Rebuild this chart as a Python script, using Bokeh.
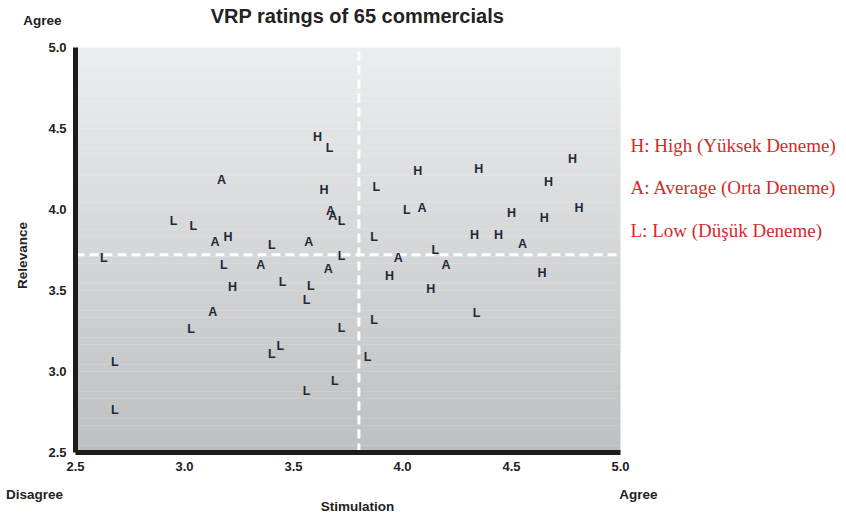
import numpy as np
from bokeh.plotting import figure
from bokeh.models import LabelSet, Range1d, FixedTicker, PrintfTickFormatter, ColumnDataSource
from bokeh.core.properties import value
from bokeh.embed import file_html
from bokeh.resources import INLINE

# Data (Stimulation, Relevance, rating class)
stimulation = [3.61, 3.665, 3.17, 3.64, 3.67, 3.68, 3.72, 2.95, 3.04, 3.14,
               3.20, 3.40, 3.57, 2.63, 3.18, 3.35, 3.72, 3.66, 3.22, 3.45,
               3.58, 3.56, 3.13, 3.03, 3.72, 3.44, 3.40, 2.68, 3.69, 3.56,
               2.68, 3.87, 3.98, 4.15, 4.20, 4.55, 3.94, 4.13, 4.64, 3.87,
               4.34, 3.84, 4.78, 4.35, 4.07, 3.88, 4.67, 4.02, 4.09, 4.50,
               4.65, 4.81, 4.33, 4.44]
relevance = [4.45, 4.38, 4.18, 4.12, 3.99, 3.96, 3.93, 3.93, 3.90, 3.80,
             3.83, 3.78, 3.80, 3.70, 3.66, 3.66, 3.71, 3.63, 3.52, 3.55,
             3.53, 3.44, 3.37, 3.26, 3.27, 3.16, 3.11, 3.06, 2.94, 2.88,
             2.76, 3.83, 3.70, 3.75, 3.66, 3.79, 3.59, 3.51, 3.61, 3.32,
             3.36, 3.09, 4.31, 4.25, 4.24, 4.14, 4.17, 4.00, 4.01, 3.98,
             3.95, 4.01, 3.84, 3.84]
rating = ["H", "L", "A", "H", "A", "A", "L", "L", "L", "A",
          "H", "L", "A", "L", "L", "A", "L", "A", "H", "L",
          "L", "L", "A", "L", "L", "L", "L", "L", "L", "L",
          "L", "L", "A", "L", "A", "A", "H", "H", "H", "L",
          "L", "L", "H", "H", "H", "L", "H", "L", "A", "H",
          "H", "H", "H", "H"]

x_ticks = [2.5, 3.0, 3.5, 4.0, 4.5, 5.0]
y_ticks = [2.5, 3.0, 3.5, 4.0, 4.5, 5.0]
mid_stimulation = 3.80
mid_relevance = 3.72

title_text = "VRP ratings of 65 commercials"
axis_texts = ["Agree", "Disagree", "Agree", "Stimulation"]
y_title = "Relevance"
legend_lines = ["H: High (Yüksek Deneme)",
                "A: Average (Orta Deneme)",
                "L: Low (Düşük Deneme)"]

W, H = 846, 516
# plot box in page pixels: x 2.5..5.0 -> 75..620, y 5.0..2.5 -> 47..452
BOX_L, BOX_R, BOX_T, BOX_B = 75, 620, 47, 452
x0, x1 = x_ticks[0], x_ticks[-1]
y0, y1 = y_ticks[0], y_ticks[-1]
kx = (BOX_R - BOX_L) / (x1 - x0)
ky = (BOX_B - BOX_T) / (y1 - y0)
x_range = Range1d(x0 - BOX_L / kx, x1 + (W - BOX_R) / kx)
y_range = Range1d(y0 - (H - BOX_B) / ky, y1 + BOX_T / ky)

SANS = "Liberation Sans"

p = figure(width=W, height=H, x_range=x_range, y_range=y_range,
           output_backend="svg", toolbar_location=None,
           min_border_left=0, min_border_right=0, min_border_top=0, min_border_bottom=0)
try:
    p.title = None
except Exception:
    p.title.visible = False
p.outline_line_color = None
p.grid.visible = False
p.background_fill_color = "white"
p.border_fill_color = "white"

# vertical gradient background of the plot box
n = 60
edges = np.linspace(y0, y1, n + 1)
top_c = np.array([0xec, 0xed, 0xee])
bot_c = np.array([0xbd, 0xbf, 0xc1])
cols = []
for i in range(n):
    t = (i + 0.5) / n
    c = bot_c + (top_c - bot_c) * t
    cols.append("#%02x%02x%02x" % tuple(int(round(v)) for v in c))
tops = list(edges[1:] + 0.002)
tops[-1] = y1
p.quad(left=x0, right=x1, bottom=edges[:-1], top=tops, fill_color=cols, line_color=None)

# white dashed quadrant lines
p.segment(x0=[mid_stimulation], y0=[y0], x1=[mid_stimulation], y1=[y1],
          line_color="white", line_width=3, line_dash="9 5")
p.segment(x0=[x0], y0=[mid_relevance], x1=[x1], y1=[mid_relevance],
          line_color="white", line_width=3, line_dash="9 5")

# rating letters
p.text(x=stimulation, y=relevance, text=rating, text_font=value(SANS),
       text_font_style="bold", text_font_size="12.5px", text_color="#232838",
       text_align="center", text_baseline="middle")

# axes fixed at the plot box edges
p.xaxis.fixed_location = y0
p.yaxis.fixed_location = x0
for ax, ticks in ((p.xaxis, x_ticks), (p.yaxis, y_ticks)):
    ax.ticker = FixedTicker(ticks=ticks)
    ax.formatter = PrintfTickFormatter(format="%.1f")
    ax.bounds = (ticks[0], ticks[-1])
    ax.axis_line_width = 5
    ax.axis_line_color = "#1c1c1c"
    ax.major_tick_line_color = None
    ax.minor_tick_line_color = None
    ax.major_tick_out = 0
    ax.major_tick_in = 0
    ax.minor_tick_out = 0
    ax.minor_tick_in = 0
    ax.major_label_text_font = SANS
    ax.major_label_text_font_style = "bold"
    ax.major_label_text_font_size = "13px"
    ax.major_label_text_color = "#222222"
    ax.major_label_standoff = 9

# surrounding texts, page-pixel positions (y measured up from the page bottom)
def up(py):
    return H - py

head_src = ColumnDataSource(dict(x=[357], y=[up(15)], text=[title_text]))
p.add_layout(LabelSet(source=head_src, x="x", y="y", text="text", x_units="screen",
                      y_units="screen", text_font=value(SANS), text_font_style="bold",
                      text_font_size="20px", text_color="#222222", text_align="center",
                      text_baseline="middle"))

side_src = ColumnDataSource(dict(
    x=[42, 34, 638, 357],
    y=[up(20), up(494), up(494), up(506)],
    text=axis_texts,
))
p.add_layout(LabelSet(source=side_src, x="x", y="y", text="text", x_units="screen",
                      y_units="screen", text_font=value(SANS), text_font_style="bold",
                      text_font_size="13.5px", text_color="#222222", text_align="center",
                      text_baseline="middle"))

rot_src = ColumnDataSource(dict(x=[22], y=[up(255)], text=[y_title]))
p.add_layout(LabelSet(source=rot_src, x="x", y="y", text="text", x_units="screen",
                      y_units="screen", text_font=value(SANS), text_font_style="bold",
                      text_font_size="13.5px", text_color="#222222", text_align="center",
                      text_baseline="middle", angle=np.pi / 2))

leg_src = ColumnDataSource(dict(x=[630] * 3, y=[up(145), up(187), up(230)],
                                text=legend_lines))
p.add_layout(LabelSet(source=leg_src, x="x", y="y", text="text", x_units="screen",
                      y_units="screen", text_font=value("Liberation Serif"),
                      text_font_size="19px", text_color="#d42a2a", text_align="left",
                      text_baseline="middle"))

open("out.html", "w").write(file_html(p, INLINE))
